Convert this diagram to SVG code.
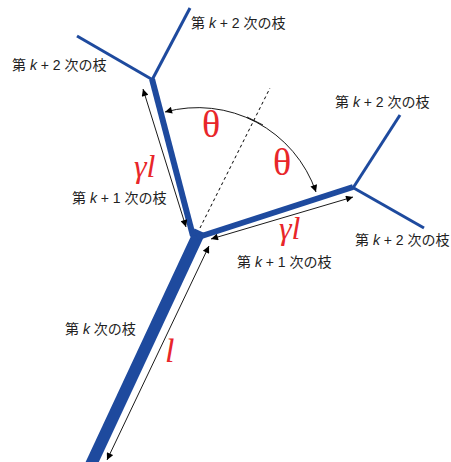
<svg xmlns="http://www.w3.org/2000/svg" width="451" height="462" viewBox="0 0 451 462">
<defs>
<marker id="ah" viewBox="0 0 10 10" refX="10" refY="5" markerWidth="9" markerHeight="7" markerUnits="userSpaceOnUse" orient="auto-start-reverse">
<path d="M0,0 L10,5 L0,10 z" fill="#000"/>
</marker>
<style>
.br{stroke:#1E4A9E;fill:none;stroke-linecap:butt}
.dim{stroke:#000;stroke-width:0.9;fill:none;marker-start:url(#ah);marker-end:url(#ah)}
.lb{font-family:"Liberation Sans","Noto Sans CJK JP",sans-serif;font-size:14px;fill:#222}
.it{font-style:italic}
.rd{font-family:"Liberation Serif","Times New Roman",serif;fill:#E8262A}
</style>
</defs>
<rect width="451" height="462" fill="#fff"/>
<g id="trunk"><line class="br" x1="88.5" y1="470" x2="200" y2="231" stroke-width="12"/></g>
<g id="branch-left"><line class="br" x1="152" y1="79" x2="193" y2="236" stroke-width="6"/></g>
<g id="branch-right"><line class="br" x1="197" y1="237.5" x2="353" y2="187" stroke-width="6"/></g>
<g id="twigs-left">
<line class="br" x1="152" y1="80" x2="190" y2="8" stroke-width="3"/>
<line class="br" x1="153" y1="80" x2="77" y2="36" stroke-width="3"/>
</g>
<g id="twigs-right">
<line class="br" x1="353" y1="188" x2="400" y2="115" stroke-width="3"/>
<line class="br" x1="352" y1="187" x2="424" y2="228" stroke-width="3"/>
</g>
<g id="connectors">
<line class="dim" x1="143" y1="89" x2="186" y2="227"/>
<line class="dim" x1="211" y1="239" x2="353" y2="197"/>
<line class="dim" x1="209" y1="246" x2="107" y2="460"/>
<path class="dim" d="M165,112 A125,125 0 0 1 316,192"/>
<line x1="200" y1="228" x2="270" y2="88" stroke="#000" stroke-width="1" stroke-dasharray="3,3"/>
<line x1="247" y1="117" x2="263" y2="125" stroke="#000" stroke-width="0.9"/>
</g>
<g id="labels">
<text class="lb" x="191" y="28">第 <tspan class="it">k</tspan> + 2 次の枝</text>
<text class="lb" x="12" y="70">第 <tspan class="it">k</tspan> + 2 次の枝</text>
<text class="lb" x="335" y="107">第 <tspan class="it">k</tspan> + 2 次の枝</text>
<text class="lb" x="355" y="245">第 <tspan class="it">k</tspan> + 2 次の枝</text>
<text class="lb" x="72" y="203">第 <tspan class="it">k</tspan> + 1 次の枝</text>
<text class="lb" x="237" y="267">第 <tspan class="it">k</tspan> + 1 次の枝</text>
<text class="lb" x="65" y="334">第 <tspan class="it">k</tspan> 次の枝</text>
<text class="rd" x="211" y="137" font-size="38" text-anchor="middle">θ</text>
<text class="rd" x="282" y="175" font-size="38" text-anchor="middle">θ</text>
<text class="rd" x="134" y="177" font-size="32" font-style="italic">γl</text>
<text class="rd" x="279" y="239" font-size="32" font-style="italic">γl</text>
<text class="rd" x="165" y="362" font-size="34" font-style="italic">l</text>
</g>
</svg>
